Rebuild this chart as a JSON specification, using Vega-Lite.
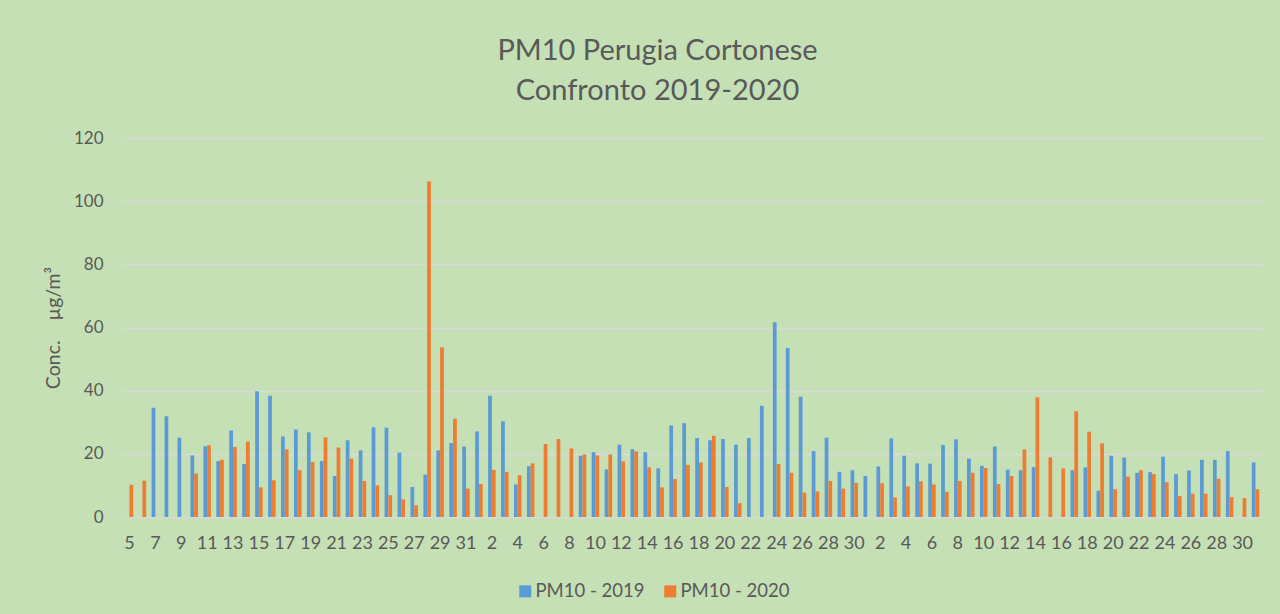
{
  "$schema": "https://vega.github.io/schema/vega-lite/v6.json",
  "width": 1139,
  "height": 379,
  "autosize": "none",
  "padding": {"left": 123, "top": 138, "right": 18, "bottom": 97},
  "background": "#C5E0B4",
  "config": {
    "view": {"stroke": null},
    "font": "Lato",
    "axis": {"labelFont": "Lato", "titleFont": "Lato", "labelColor": "#595959", "titleColor": "#595959"}
  },
  "title": {
    "text": ["PM10 Perugia Cortonese", "Confronto 2019-2020"],
    "fontSize": 29,
    "fontWeight": "normal",
    "font": "Lato",
    "color": "#595959",
    "lineHeight": 40,
    "anchor": "middle",
    "dx": -35,
    "offset": 23
  },
  "data": {
    "values": [
      {"d": "03-05", "PM10 - 2019": null, "PM10 - 2020": 10.2},
      {"d": "03-06", "PM10 - 2019": null, "PM10 - 2020": 11.5},
      {"d": "03-07", "PM10 - 2019": 34.6, "PM10 - 2020": null},
      {"d": "03-08", "PM10 - 2019": 31.9, "PM10 - 2020": null},
      {"d": "03-09", "PM10 - 2019": 25.1, "PM10 - 2020": null},
      {"d": "03-10", "PM10 - 2019": 19.5, "PM10 - 2020": 13.8},
      {"d": "03-11", "PM10 - 2019": 22.4, "PM10 - 2020": 22.7},
      {"d": "03-12", "PM10 - 2019": 17.7, "PM10 - 2020": 18.1},
      {"d": "03-13", "PM10 - 2019": 27.4, "PM10 - 2020": 22.2},
      {"d": "03-14", "PM10 - 2019": 16.8, "PM10 - 2020": 23.9},
      {"d": "03-15", "PM10 - 2019": 39.8, "PM10 - 2020": 9.4},
      {"d": "03-16", "PM10 - 2019": 38.4, "PM10 - 2020": 11.6},
      {"d": "03-17", "PM10 - 2019": 25.5, "PM10 - 2020": 21.4},
      {"d": "03-18", "PM10 - 2019": 27.7, "PM10 - 2020": 14.8},
      {"d": "03-19", "PM10 - 2019": 26.8, "PM10 - 2020": 17.4},
      {"d": "03-20", "PM10 - 2019": 17.7, "PM10 - 2020": 25.2},
      {"d": "03-21", "PM10 - 2019": 13.0, "PM10 - 2020": 22.0},
      {"d": "03-22", "PM10 - 2019": 24.3, "PM10 - 2020": 18.5},
      {"d": "03-23", "PM10 - 2019": 21.1, "PM10 - 2020": 11.4},
      {"d": "03-24", "PM10 - 2019": 28.4, "PM10 - 2020": 10.0},
      {"d": "03-25", "PM10 - 2019": 28.3, "PM10 - 2020": 6.9},
      {"d": "03-26", "PM10 - 2019": 20.4, "PM10 - 2020": 5.6},
      {"d": "03-27", "PM10 - 2019": 9.5, "PM10 - 2020": 3.7},
      {"d": "03-28", "PM10 - 2019": 13.4, "PM10 - 2020": 106.2},
      {"d": "03-29", "PM10 - 2019": 21.1, "PM10 - 2020": 53.7},
      {"d": "03-30", "PM10 - 2019": 23.4, "PM10 - 2020": 31.1},
      {"d": "03-31", "PM10 - 2019": 22.3, "PM10 - 2020": 9.0},
      {"d": "04-01", "PM10 - 2019": 27.1, "PM10 - 2020": 10.5},
      {"d": "04-02", "PM10 - 2019": 38.4, "PM10 - 2020": 14.9},
      {"d": "04-03", "PM10 - 2019": 30.3, "PM10 - 2020": 14.3},
      {"d": "04-04", "PM10 - 2019": 10.3, "PM10 - 2020": 13.2},
      {"d": "04-05", "PM10 - 2019": 16.1, "PM10 - 2020": 17.0},
      {"d": "04-06", "PM10 - 2019": null, "PM10 - 2020": 23.1},
      {"d": "04-07", "PM10 - 2019": null, "PM10 - 2020": 24.7},
      {"d": "04-08", "PM10 - 2019": null, "PM10 - 2020": 21.7},
      {"d": "04-09", "PM10 - 2019": 19.4, "PM10 - 2020": 19.8},
      {"d": "04-10", "PM10 - 2019": 20.5, "PM10 - 2020": 19.5},
      {"d": "04-11", "PM10 - 2019": 15.1, "PM10 - 2020": 19.8},
      {"d": "04-12", "PM10 - 2019": 22.9, "PM10 - 2020": 17.6},
      {"d": "04-13", "PM10 - 2019": 21.5, "PM10 - 2020": 20.7},
      {"d": "04-14", "PM10 - 2019": 20.5, "PM10 - 2020": 15.7},
      {"d": "04-15", "PM10 - 2019": 15.4, "PM10 - 2020": 9.4},
      {"d": "04-16", "PM10 - 2019": 29.0, "PM10 - 2020": 12.0},
      {"d": "04-17", "PM10 - 2019": 29.7, "PM10 - 2020": 16.5},
      {"d": "04-18", "PM10 - 2019": 25.0, "PM10 - 2020": 17.3},
      {"d": "04-19", "PM10 - 2019": 24.3, "PM10 - 2020": 25.7},
      {"d": "04-20", "PM10 - 2019": 24.7, "PM10 - 2020": 9.5},
      {"d": "04-21", "PM10 - 2019": 22.9, "PM10 - 2020": 4.4},
      {"d": "04-22", "PM10 - 2019": 25.0, "PM10 - 2020": null},
      {"d": "04-23", "PM10 - 2019": 35.2, "PM10 - 2020": null},
      {"d": "04-24", "PM10 - 2019": 61.7, "PM10 - 2020": 16.8},
      {"d": "04-25", "PM10 - 2019": 53.5, "PM10 - 2020": 14.0},
      {"d": "04-26", "PM10 - 2019": 38.1, "PM10 - 2020": 7.7},
      {"d": "04-27", "PM10 - 2019": 20.9, "PM10 - 2020": 8.1},
      {"d": "04-28", "PM10 - 2019": 25.1, "PM10 - 2020": 11.4},
      {"d": "04-29", "PM10 - 2019": 14.3, "PM10 - 2020": 9.0},
      {"d": "04-30", "PM10 - 2019": 14.8, "PM10 - 2020": 10.8},
      {"d": "05-01", "PM10 - 2019": 13.0, "PM10 - 2020": null},
      {"d": "05-02", "PM10 - 2019": 16.0, "PM10 - 2020": 10.7},
      {"d": "05-03", "PM10 - 2019": 24.9, "PM10 - 2020": 6.2},
      {"d": "05-04", "PM10 - 2019": 19.4, "PM10 - 2020": 9.7},
      {"d": "05-05", "PM10 - 2019": 17.0, "PM10 - 2020": 11.3},
      {"d": "05-06", "PM10 - 2019": 16.9, "PM10 - 2020": 10.3},
      {"d": "05-07", "PM10 - 2019": 22.8, "PM10 - 2020": 8.0},
      {"d": "05-08", "PM10 - 2019": 24.6, "PM10 - 2020": 11.4},
      {"d": "05-09", "PM10 - 2019": 18.5, "PM10 - 2020": 14.0},
      {"d": "05-10", "PM10 - 2019": 16.2, "PM10 - 2020": 15.5},
      {"d": "05-11", "PM10 - 2019": 22.3, "PM10 - 2020": 10.4},
      {"d": "05-12", "PM10 - 2019": 15.0, "PM10 - 2020": 13.0},
      {"d": "05-13", "PM10 - 2019": 14.8, "PM10 - 2020": 21.4},
      {"d": "05-14", "PM10 - 2019": 15.8, "PM10 - 2020": 37.9},
      {"d": "05-15", "PM10 - 2019": null, "PM10 - 2020": 18.9},
      {"d": "05-16", "PM10 - 2019": null, "PM10 - 2020": 15.4},
      {"d": "05-17", "PM10 - 2019": 14.8, "PM10 - 2020": 33.5},
      {"d": "05-18", "PM10 - 2019": 15.7, "PM10 - 2020": 27.0},
      {"d": "05-19", "PM10 - 2019": 8.3, "PM10 - 2020": 23.3},
      {"d": "05-20", "PM10 - 2019": 19.4, "PM10 - 2020": 8.8},
      {"d": "05-21", "PM10 - 2019": 18.8, "PM10 - 2020": 12.8},
      {"d": "05-22", "PM10 - 2019": 14.0, "PM10 - 2020": 14.8},
      {"d": "05-23", "PM10 - 2019": 14.2, "PM10 - 2020": 13.6},
      {"d": "05-24", "PM10 - 2019": 19.1, "PM10 - 2020": 11.0},
      {"d": "05-25", "PM10 - 2019": 13.6, "PM10 - 2020": 6.6},
      {"d": "05-26", "PM10 - 2019": 14.7, "PM10 - 2020": 7.4},
      {"d": "05-27", "PM10 - 2019": 18.1, "PM10 - 2020": 7.4},
      {"d": "05-28", "PM10 - 2019": 18.1, "PM10 - 2020": 12.1},
      {"d": "05-29", "PM10 - 2019": 20.9, "PM10 - 2020": 6.3},
      {"d": "05-30", "PM10 - 2019": null, "PM10 - 2020": 6.0},
      {"d": "05-31", "PM10 - 2019": 17.3, "PM10 - 2020": 8.8}
    ]
  },
  "transform": [
    {"fold": ["PM10 - 2019", "PM10 - 2020"], "as": ["serie", "val"]}
  ],
  "mark": {"type": "bar"},
  "encoding": {
    "x": {
      "field": "d",
      "type": "ordinal",
      "scale": {"paddingInner": 0.42, "paddingOuter": 0.21},
      "axis": {
        "title": null,
        "labelAngle": 0,
        "labelFontSize": 18,
        "labelPadding": 17,
        "ticks": false,
        "tickSize": 0,
        "domain": false,
        "grid": false,
        "labelOverlap": false,
        "labelBound": false,
        "labelExpr": "((slice(datum.value,0,2)=='03') == (toNumber(slice(datum.value,3)) % 2 == 1)) ? '' + toNumber(slice(datum.value,3)) : ''"
      }
    },
    "xOffset": {"field": "serie", "scale": {"paddingInner": 0, "paddingOuter": 0}},
    "y": {
      "field": "val",
      "type": "quantitative",
      "scale": {"domain": [0, 120], "nice": false},
      "axis": {
        "title": "Conc.\u00a0\u00a0\u00a0\u00a0µg/m³",
        "titleFontSize": 19.5,
        "titleFontWeight": "normal",
        "titlePadding": 10,
        "values": [0, 20, 40, 60, 80, 100, 120],
        "labelFontSize": 17,
        "labelPadding": 20,
        "ticks": false,
        "tickSize": 0,
        "domain": false,
        "grid": true,
        "gridColor": "#D9D9D9",
        "gridWidth": 1.3
      }
    },
    "color": {
      "field": "serie",
      "type": "nominal",
      "scale": {"domain": ["PM10 - 2019", "PM10 - 2020"], "range": ["#5B9BD5", "#ED7D31"]},
      "legend": {
        "title": null,
        "orient": "none",
        "direction": "horizontal",
        "legendX": 393,
        "legendY": 444,
        "symbolType": "square",
        "symbolSize": 144,
        "symbolStrokeWidth": 0,
        "labelFontSize": 18.5,
        "labelFont": "Lato",
        "labelColor": "#595959",
        "labelOffset": 1,
        "columnPadding": 16
      }
    }
  }
}
